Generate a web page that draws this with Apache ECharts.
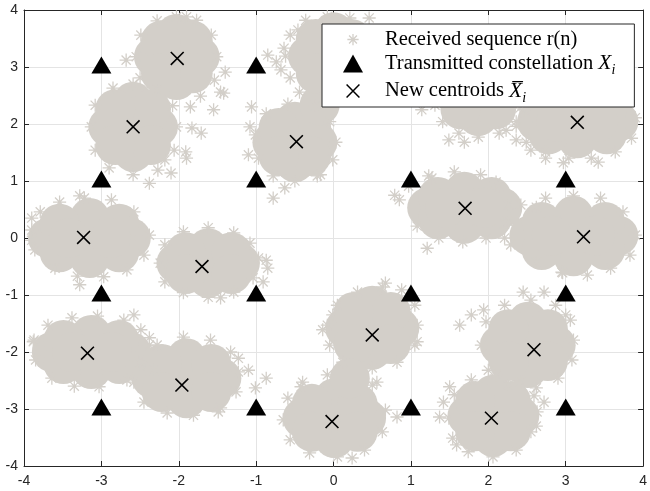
<!DOCTYPE html>
<html><head><meta charset="utf-8">
<script src="https://cdn.jsdelivr.net/npm/echarts@6/dist/echarts.min.js"></script>
<style>html,body{margin:0;padding:0;background:#fff}#c{width:650px;height:491px}</style>
</head><body><div id="c"></div>
<script>
// ---- axis ticks ----
const xTicks = [-4, -3, -2, -1, 0, 1, 2, 3, 4];
const yTicks = [-4, -3, -2, -1, 0, 1, 2, 3, 4];

// ---- received sequence r(n): dense cloud cores and asterisk fringes, per cluster ----
const coreA = [[-2.03,3.18],[-1.73,3.18],[-2.32,3.18],[-2.03,3.58],[-2.03,2.77],[-1.82,3.46],[-2.23,3.46],[-1.82,2.89],[-2.23,2.89]];
const edgeA = [[-1.51,3.18],[-1.58,3.56],[-1.77,3.82],[-2.03,3.88],[-2.28,3.81],[-2.49,3.56],[-2.55,3.18],[-2.50,2.81],[-1.54,2.77],[-1.46,2.56],[-1.72,2.49],[-2.68,3.12],[-1.40,2.91],[-1.42,2.54],[-1.55,2.25],[-1.85,2.30],[-1.90,3.88]];
const coreB = [[-2.59,1.95],[-2.27,1.95],[-2.91,1.95],[-2.59,2.39],[-2.59,1.51],[-2.36,2.26],[-2.82,2.26],[-2.36,1.63],[-2.82,1.63]];
const edgeB = [[-3.13,1.95],[-3.08,2.33],[-2.85,2.63],[-2.59,2.70],[-2.28,2.60],[-2.08,2.32],[-2.03,1.95],[-2.06,1.54],[-2.27,1.19],[-2.59,1.11],[-2.90,1.23],[-3.08,1.54],[-2.10,1.14],[-2.38,0.96],[-1.91,1.51],[-1.83,1.93],[-1.71,1.84],[-1.90,1.40],[-2.18,1.37]];
const coreC = [[-0.50,1.68],[-0.21,1.68],[-0.79,1.68],[-0.50,2.04],[-0.50,1.33],[-0.29,1.93],[-0.71,1.93],[-0.29,1.44],[-0.71,1.44],[-0.18,2.33]];
const edgeC = [[0.03,1.68],[-0.05,2.04],[-0.24,2.32],[-0.59,2.35],[-0.87,2.18],[-1.01,1.81],[-0.97,1.40],[-0.78,1.09],[-0.50,1.00],[-0.21,1.09],[-0.01,1.37],[-1.06,2.30],[-1.08,1.95],[-1.10,1.46],[-0.78,0.70],[-0.63,0.88],[-0.17,1.11]];
const coreD = [[0.00,3.19],[0.33,3.19],[-0.33,3.19],[0.00,3.61],[0.00,2.77],[0.23,3.49],[-0.23,3.49],[0.23,2.89],[-0.23,2.89]];
const edgeD = [[-0.62,3.19],[-0.56,3.56],[-0.36,3.82],[-0.08,3.88],[0.21,3.86],[0.46,3.86],[-0.56,2.81],[-0.44,2.56],[-0.85,3.21],[-0.74,3.09],[-0.64,3.33],[-0.46,3.65],[-0.68,2.95]];
const coreE = [[1.87,2.56],[2.21,2.56],[1.54,2.56],[1.87,2.98],[1.87,2.14],[2.10,2.86],[1.64,2.86],[2.10,2.26],[1.64,2.26]];
const edgeE = [[1.31,2.33],[1.41,2.04],[1.62,1.84],[1.87,1.77],[2.14,1.84],[2.36,2.04],[1.33,2.63],[1.14,2.25],[1.49,1.72],[1.69,1.68],[2.46,2.25]];
const coreF = [[3.15,2.04],[3.68,2.04],[2.63,2.04],[3.15,2.32],[3.15,1.75],[3.53,2.25],[2.78,2.25],[3.53,1.82],[2.78,1.82],[3.42,2.04],[2.88,2.04]];
const edgeF = [[3.90,2.11],[3.85,1.75],[3.64,1.51],[3.33,1.40],[3.04,1.40],[2.74,1.51],[2.49,1.68],[2.36,1.96],[2.41,2.28],[2.36,1.72],[2.55,1.54],[2.74,1.40],[3.42,1.33],[2.97,1.32],[2.23,1.89]];
const coreG = [[1.69,0.53],[2.18,0.53],[1.21,0.53],[1.69,0.81],[1.69,0.25],[2.04,0.72],[1.35,0.72],[2.04,0.33],[1.35,0.33],[1.95,0.53],[1.44,0.53]];
const edgeG = [[2.26,0.58],[2.21,0.25],[1.97,0.00],[1.67,-0.07],[1.36,0.00],[1.08,0.21],[0.85,0.67],[0.97,0.91],[1.23,1.09],[1.56,1.16],[1.90,1.11],[2.14,0.91],[1.27,1.05],[2.10,0.98],[1.21,-0.18],[0.79,0.75]];
const coreH = [[3.10,0.04],[3.68,0.04],[2.53,0.04],[3.10,0.39],[3.10,-0.32],[3.51,0.28],[2.69,0.28],[3.51,-0.21],[2.69,-0.21],[3.38,0.04],[2.82,0.04]];
const edgeH = [[3.90,0.05],[3.83,-0.30],[3.58,-0.53],[3.28,-0.65],[2.95,-0.60],[2.62,-0.42],[2.29,-0.12],[2.26,0.28],[2.42,0.58],[2.74,0.70],[3.10,0.74],[3.45,0.70],[3.74,0.46],[2.96,-0.61],[2.62,0.54],[2.21,0.00]];
const coreI = [[-3.15,0.00],[-2.62,0.00],[-3.69,0.00],[-3.15,0.35],[-3.15,-0.35],[-2.77,0.25],[-3.54,0.25],[-2.77,-0.25],[-3.54,-0.25],[-2.88,0.00],[-3.42,0.00]];
const edgeI = [[-2.38,0.05],[-2.45,-0.30],[-2.67,-0.56],[-2.97,-0.68],[-3.31,-0.67],[-3.60,-0.53],[-3.86,-0.21],[-3.90,0.14],[-3.79,0.46],[-3.54,0.63],[-3.22,0.70],[-2.87,0.67],[-2.58,0.46],[-3.28,-0.82],[-3.28,0.74],[-3.90,0.35],[-3.90,-0.04]];
const coreJ = [[-1.62,-0.44],[-1.21,-0.44],[-2.03,-0.44],[-1.62,-0.18],[-1.62,-0.70],[-1.32,-0.25],[-1.91,-0.25],[-1.32,-0.63],[-1.91,-0.63]];
const edgeJ = [[-0.97,-0.35],[-1.04,-0.70],[-1.29,-0.95],[-1.62,-1.04],[-1.94,-0.96],[-2.18,-0.77],[-2.24,-0.44],[-2.18,-0.12],[-1.94,0.11],[-1.62,0.18],[-1.29,0.09],[-1.08,-0.09],[-0.85,-0.53],[-1.46,-1.05],[-0.91,-0.77],[-0.87,-0.39]];
const coreK = [[-3.13,-2.00],[-2.62,-2.00],[-3.64,-2.00],[-3.13,-1.70],[-3.13,-2.30],[-2.77,-1.79],[-3.49,-1.79],[-2.77,-2.21],[-3.49,-2.21],[-2.87,-2.00],[-3.38,-2.00]];
const edgeK = [[-2.38,-1.88],[-2.45,-2.23],[-2.67,-2.49],[-3.03,-2.61],[-3.35,-2.60],[-3.64,-2.46],[-3.85,-2.14],[-3.87,-1.79],[-3.69,-1.53],[-3.38,-1.40],[-3.05,-1.37],[-2.71,-1.44],[-2.49,-1.61],[-3.88,-1.82],[-2.58,-1.35],[-2.38,-1.75],[-2.32,-2.32]];
const coreL = [[-1.90,-2.46],[-1.45,-2.46],[-2.35,-2.46],[-1.90,-2.11],[-1.90,-2.81],[-1.58,-2.21],[-2.22,-2.21],[-1.58,-2.70],[-2.22,-2.70]];
const edgeL = [[-1.23,-2.35],[-1.26,-2.70],[-1.46,-2.98],[-1.81,-3.11],[-2.15,-3.07],[-2.45,-2.88],[-2.58,-2.53],[-2.51,-2.18],[-2.28,-1.88],[-1.94,-1.74],[-1.59,-1.79],[-1.33,-2.00],[-1.23,-2.11],[-0.87,-2.46],[-1.01,-2.63],[-1.49,-3.05],[-1.10,-2.32]];
const coreM = [[0.50,-1.58],[0.85,-1.58],[0.15,-1.58],[0.50,-1.19],[0.50,-1.96],[0.74,-1.30],[0.26,-1.30],[0.74,-1.86],[0.26,-1.86]];
const edgeM = [[1.08,-1.53],[1.05,-1.18],[0.88,-0.91],[0.63,-0.86],[0.31,-0.95],[0.05,-1.18],[-0.08,-1.53],[-0.05,-1.88],[0.12,-2.18],[0.50,-2.28],[0.82,-2.18],[1.05,-1.88],[0.67,-0.79],[-0.01,-1.35],[1.08,-1.82],[-0.14,-1.61]];
const coreN = [[0.01,-3.16],[0.42,-3.16],[-0.40,-3.16],[0.01,-2.81],[0.01,-3.51],[0.31,-2.91],[-0.28,-2.91],[0.31,-3.40],[-0.28,-3.40],[0.21,-2.46]];
const edgeN = [[0.67,-3.02],[0.63,-3.40],[0.40,-3.72],[0.05,-3.84],[-0.31,-3.77],[-0.56,-3.54],[-0.65,-3.19],[-0.59,-2.81],[-0.40,-2.53],[-0.08,-2.40],[0.50,-2.58],[0.56,-2.53],[0.82,-3.14],[-0.42,-2.61],[0.24,-3.86]];
const coreO = [[2.51,-1.88],[2.87,-1.88],[2.15,-1.88],[2.51,-1.47],[2.51,-2.28],[2.77,-1.60],[2.26,-1.60],[2.77,-2.16],[2.26,-2.16]];
const edgeO = [[3.10,-1.79],[3.06,-1.44],[2.87,-1.18],[2.55,-1.09],[2.21,-1.18],[1.97,-1.47],[1.91,-1.88],[2.00,-2.32],[2.26,-2.58],[2.62,-2.63],[2.90,-2.46],[3.08,-2.14],[2.45,-0.95],[2.72,-0.95],[1.63,-1.53],[1.78,-1.35],[3.00,-1.35],[2.72,-2.88],[1.94,-1.26]];
const coreP = [[2.06,-3.12],[2.40,-3.12],[1.73,-3.12],[2.06,-2.75],[2.06,-3.49],[2.29,-2.86],[1.83,-2.86],[2.29,-3.39],[1.83,-3.39]];
const edgeP = [[2.63,-3.05],[2.55,-3.40],[2.36,-3.72],[2.06,-3.84],[1.74,-3.75],[1.54,-3.51],[1.49,-3.16],[1.56,-2.75],[1.78,-2.49],[2.10,-2.40],[2.42,-2.53],[2.59,-2.77],[1.37,-3.14],[1.50,-2.61],[1.42,-2.88],[2.62,-3.30],[1.59,-3.63]];

// ---- transmitted 16-QAM constellation X_i ----
const constellation = [[-3,3],[-1,3],[1,3],[3,3],[-3,1],[-1,1],[1,1],[3,1],[-3,-1],[-1,-1],[1,-1],[3,-1],[-3,-3],[-1,-3],[1,-3],[3,-3]];

// ---- new centroids ----
const centroids = [[-2.02,3.15],[-2.59,1.95],[-0.48,1.69],[0.00,3.20],[1.90,2.60],[3.15,2.03],[-3.23,0.01],[-1.70,-0.50],[1.70,0.52],[3.23,0.02],[-3.18,-2.02],[-1.96,-2.58],[0.50,-1.70],[2.59,-1.96],[-0.02,-3.22],[2.04,-3.16]];

const cores = [coreA,coreB,coreC,coreD,coreE,coreF,coreG,coreH,coreI,coreJ,coreK,coreL,coreM,coreN,coreO,coreP];
const edges = [edgeA,edgeB,edgeC,edgeD,edgeE,edgeF,edgeG,edgeH,edgeI,edgeJ,edgeK,edgeL,edgeM,edgeN,edgeO,edgeP];

const GRAY = '#d3cfc9';
const AX = '#262626';
const ASTER = 'path://M-3,-3M13,13M5,0L5,10M0,5L10,5M1.5,1.5L8.5,8.5M8.5,1.5L1.5,8.5';
const XMARK = 'path://M-2,-2M12,12M0,0L10,10M10,0L0,10';

const NAME_R = 'Received sequence r(n)';
const NAME_T = 'Transmitted constellation';
const NAME_C = 'New centroids';

const chart = echarts.init(document.getElementById('c'), null, {renderer: 'canvas'});

function axisCommon(pos, showLabels, isX) {
  const ticks = isX ? xTicks : yTicks;
  return {
    type: 'value', position: pos,
    min: ticks[0], max: ticks[ticks.length - 1], interval: ticks[1] - ticks[0],
    axisLine: {show: true, onZero: false, lineStyle: {color: AX, width: 1}},
    axisTick: {show: true, inside: true, length: 5, lineStyle: {color: AX, width: 1}},
    axisLabel: {show: showLabels, color: AX, fontFamily: 'Liberation Sans', fontSize: 14, margin: isX ? 8 : 6},
    splitLine: {show: showLabels, lineStyle: {color: '#e4e4e4', width: 1}}
  };
}

chart.setOption({
  animation: false,
  backgroundColor: '#fff',
  grid: {left: 24, right: 2, top: 10, bottom: 25, containLabel: false},
  xAxis: [axisCommon('bottom', true, true), axisCommon('top', false, true)],
  yAxis: [axisCommon('left', true, false), axisCommon('right', false, false)],
  legend: {
    orient: 'vertical', left: 322, top: 24,
    padding: [5, 19, 2, 21],
    itemWidth: 20, itemHeight: 18, itemGap: 2.5,
    backgroundColor: '#fff', borderColor: AX, borderWidth: 1, borderRadius: 0,
    selectedMode: false,
    data: [
      {name: NAME_R, icon: ASTER, itemStyle: {color: 'transparent', borderColor: GRAY, borderWidth: 1.3, opacity: 1}},
      {name: NAME_T, icon: 'triangle', itemStyle: {color: '#000', borderWidth: 0, opacity: 1}},
      {name: NAME_C, icon: XMARK, itemStyle: {color: 'transparent', borderColor: '#000', borderWidth: 1.5, opacity: 1}}
    ],
    formatter: function (name) {
      if (name === NAME_R) return '{t|Received sequence r(n)}';
      if (name === NAME_T) return '{t|Transmitted constellation }{v|X}{s|i}';
      return '{t|New centroids }{v|X\u0305}{s|i}';
    },
    textStyle: {
      padding: [0, 0, 0, 17],
      rich: {
        t: {fontFamily: 'Liberation Serif', fontSize: 20.5, lineHeight: 28, color: '#000'},
        v: {fontFamily: 'Liberation Serif', fontStyle: 'italic', fontSize: 21.5, lineHeight: 28, color: '#000'},
        s: {fontFamily: 'Liberation Serif', fontStyle: 'italic', fontSize: 14, lineHeight: 14, verticalAlign: 'bottom', color: '#000'}
      }
    }
  },
  series: [
    {
      name: 'cloud', type: 'scatter', silent: true, z: 1,
      symbol: 'circle', symbolSize: 40,
      itemStyle: {color: GRAY, opacity: 1},
      data: [].concat(...cores)
    },
    {
      name: NAME_R, type: 'scatter', silent: true, z: 2,
      symbol: ASTER, symbolSize: 21,
      itemStyle: {color: 'transparent', borderColor: GRAY, borderWidth: 1.3, opacity: 1},
      data: [].concat(...edges)
    },
    {
      name: NAME_T, type: 'scatter', silent: true, z: 3,
      symbol: 'triangle', symbolSize: [20, 17], symbolOffset: [0, -2],
      itemStyle: {color: '#000', opacity: 1},
      data: constellation
    },
    {
      name: NAME_C, type: 'scatter', silent: true, z: 3,
      symbol: XMARK, symbolSize: 18,
      itemStyle: {color: 'transparent', borderColor: '#000', borderWidth: 1.6, opacity: 1},
      data: centroids
    }
  ]
});
</script></body></html>
